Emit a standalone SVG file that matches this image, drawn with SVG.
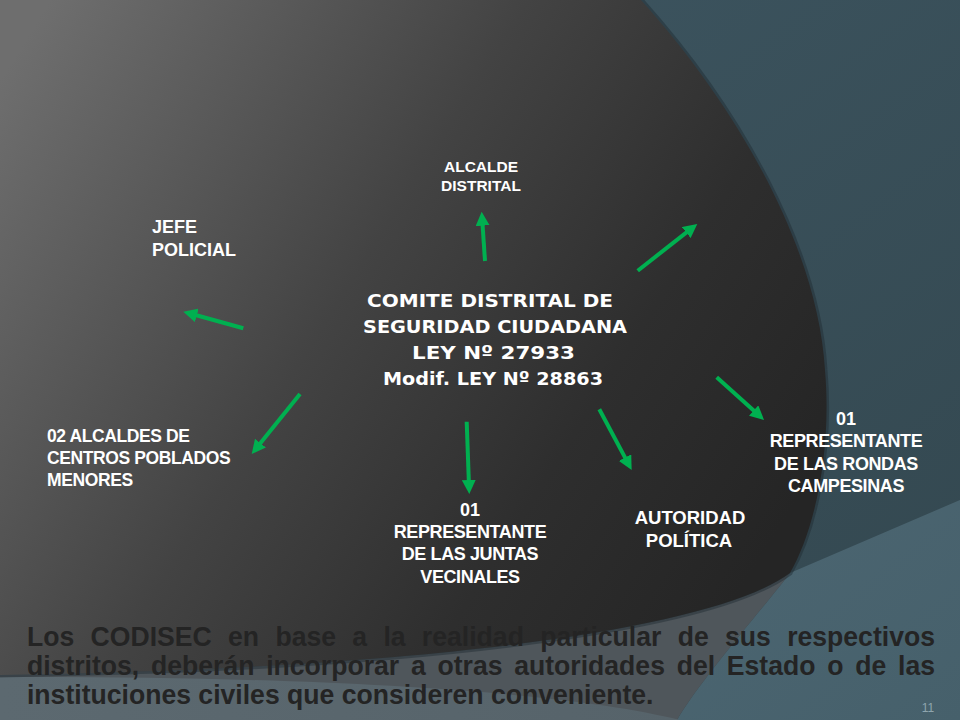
<svg xmlns="http://www.w3.org/2000/svg" width="960" height="720" viewBox="0 0 960 720">
  <defs>
    <linearGradient id="teal" x1="0" y1="0" x2="1" y2="1">
      <stop offset="0" stop-color="#3f5864"/>
      <stop offset="1" stop-color="#33474f"/>
    </linearGradient>
    <linearGradient id="lightTeal" x1="0" y1="0" x2="1" y2="1">
      <stop offset="0" stop-color="#4c6672"/>
      <stop offset="1" stop-color="#46606b"/>
    </linearGradient>
    <linearGradient id="dark" gradientUnits="userSpaceOnUse" x1="0" y1="80" x2="760" y2="560">
      <stop offset="0" stop-color="#6e6e6e"/>
      <stop offset="0.45" stop-color="#434343"/>
      <stop offset="0.75" stop-color="#2e2e2e"/>
      <stop offset="1" stop-color="#252525"/>
    </linearGradient>
    <linearGradient id="band" x1="0" y1="0" x2="1" y2="0">
      <stop offset="0" stop-color="#5c6970"/>
      <stop offset="1" stop-color="#56636a"/>
    </linearGradient>
    <marker id="ah" viewBox="0 0 10 10" refX="4.3" refY="5" markerWidth="14" markerHeight="14" markerUnits="userSpaceOnUse" orient="auto">
      <path d="M0,0 L10,5 L0,10 Z" fill="#00b050"/>
    </marker>
    <style>
      .lbl{font-family:"Liberation Sans",Arial,sans-serif;font-weight:bold;fill:#ffffff}
      .c{text-anchor:middle}
      .ctr{font-family:"DejaVu Sans",Verdana,sans-serif;font-weight:bold;fill:#ffffff;font-size:18.5px;text-anchor:middle}
      .arr{stroke:#00b050;stroke-width:4;fill:none;marker-end:url(#ah)}
      .para{font-family:"Liberation Sans",Arial,sans-serif;font-weight:bold;font-size:27.5px;fill:#242424}
      .pg{font-family:"Liberation Sans",Arial,sans-serif;font-size:12px;fill:#8fa5ae;text-anchor:middle}
    </style>
  </defs>

  <!-- background -->
  <rect x="0" y="0" width="960" height="720" fill="url(#teal)"/>
  <path d="M960,500 L790,573 C770,600 700,680 677,720 L960,720 Z" fill="url(#lightTeal)"/>
  <path d="M790,573 C770,600 700,680 677,720 L0,720 L0,675 C460,668 720,625 790,573 Z" fill="#4f565b"/>
  <path d="M0,677 C300,676 560,690 680,720 L0,720 Z" fill="url(#band)"/>
  <path d="M641,0 C740,110 818,250 825,370 C832,450 815,530 790,573 C720,625 460,668 0,675" fill="none" stroke="#1e2a30" stroke-opacity="0.45" stroke-width="5"/>
  <path d="M641,0 C740,110 818,250 825,370 C832,450 815,530 790,573 C720,625 460,668 0,675 L0,0 Z" fill="url(#dark)"/>

  <!-- connectors -->
  <g id="connectors">
    <line class="arr" x1="485" y1="261" x2="482.2" y2="219.7"/>
    <line class="arr" x1="637.7" y1="270.7" x2="691" y2="228.9"/>
    <line class="arr" x1="243.3" y1="328.3" x2="191" y2="313.8"/>
    <line class="arr" x1="300" y1="394" x2="256.7" y2="447.8"/>
    <line class="arr" x1="466.7" y1="421.7" x2="469" y2="486"/>
    <line class="arr" x1="599.3" y1="409.3" x2="627.9" y2="462.9"/>
    <line class="arr" x1="716.7" y1="377.3" x2="758.1" y2="414.6"/>
  </g>

  <g id="center">
    <text class="ctr" x="490" y="307" textLength="246" lengthAdjust="spacingAndGlyphs">COMITE DISTRITAL DE</text>
    <text class="ctr" x="495" y="333" textLength="264" lengthAdjust="spacingAndGlyphs">SEGURIDAD CIUDADANA</text>
    <text class="ctr" x="493.5" y="359" textLength="163" lengthAdjust="spacingAndGlyphs">LEY Nº 27933</text>
    <text class="ctr" x="493" y="385" textLength="220" lengthAdjust="spacingAndGlyphs">Modif. LEY Nº 28863</text>
  </g>

  <g id="alcalde">
    <text class="lbl c" font-size="15.5" x="481" y="172">ALCALDE</text>
    <text class="lbl c" font-size="15.5" x="481" y="191">DISTRITAL</text>
  </g>

  <g id="jefe">
    <text class="lbl" font-size="18" x="152" y="233">JEFE</text>
    <text class="lbl" font-size="18" x="152" y="256">POLICIAL</text>
  </g>

  <g id="alcaldes-cp">
    <text class="lbl" font-size="17.5" x="47" y="442" letter-spacing="-0.4">02 ALCALDES DE</text>
    <text class="lbl" font-size="17.5" x="47" y="464" letter-spacing="-0.4">CENTROS POBLADOS</text>
    <text class="lbl" font-size="17.5" x="47" y="486" letter-spacing="-0.4">MENORES</text>
  </g>

  <g id="juntas">
    <text class="lbl c" font-size="18" x="470" y="516">01</text>
    <text class="lbl c" font-size="18" x="470" y="538" letter-spacing="-0.4">REPRESENTANTE</text>
    <text class="lbl c" font-size="18" x="470" y="560" letter-spacing="-0.4">DE LAS JUNTAS</text>
    <text class="lbl c" font-size="18" x="470" y="583" letter-spacing="-0.4">VECINALES</text>
  </g>

  <g id="autoridad">
    <text class="lbl c" font-size="18.5" x="690" y="524">AUTORIDAD</text>
    <text class="lbl c" font-size="18.5" x="689" y="547">POLÍTICA</text>
  </g>

  <g id="rondas">
    <text class="lbl c" font-size="18" x="846" y="425">01</text>
    <text class="lbl c" font-size="18" x="846" y="447" letter-spacing="-0.4">REPRESENTANTE</text>
    <text class="lbl c" font-size="18" x="846" y="470" letter-spacing="-0.4">DE LAS RONDAS</text>
    <text class="lbl c" font-size="18" x="846" y="492" letter-spacing="-0.4">CAMPESINAS</text>
  </g>

  <g id="note" transform="scale(0.967,1)">
    <text class="para" x="27.9" y="646" word-spacing="9.2" textLength="939" lengthAdjust="spacing">Los CODISEC en base a la realidad particular de sus respectivos</text>
    <text class="para" x="27.9" y="675" word-spacing="4.5" textLength="939" lengthAdjust="spacing">distritos, deberán incorporar a otras autoridades del Estado o de las</text>
    <text class="para" x="27.9" y="704">instituciones civiles que consideren conveniente.</text>
  </g>

  <text class="pg" x="928" y="712">11</text>
</svg>
